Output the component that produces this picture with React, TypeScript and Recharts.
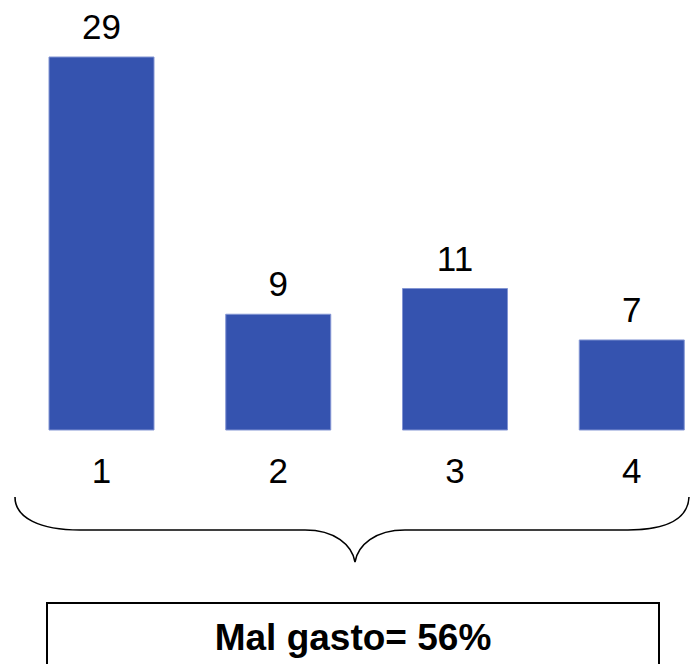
import React from "react";
import { BarChart, Bar, XAxis, YAxis, LabelList } from "recharts";

const CATEGORIES = ["1", "2", "3", "4"];
const VALUES = [29, 9, 11, 7];
const SUMMARY = "Mal gasto= 56%";

const FONT = "'Liberation Sans', Arial, sans-serif";
const BAR_COLOR = "#3553AF";

const data = CATEGORIES.map((name, i) => ({ name, value: VALUES[i] }));

export default function App() {
  return (
    <div
      style={{
        position: "absolute",
        left: 0,
        top: 0,
        width: 691,
        height: 664,
        overflow: "hidden",
        background: "#fff",
      }}
    >
      <BarChart
        width={730}
        height={664}
        data={data}
        margin={{ top: 57, right: 10, left: 13, bottom: 174 }}
        barCategoryGap={36}
      >
        <XAxis
          dataKey="name"
          axisLine={false}
          tickLine={false}
          tickSize={0}
          tickMargin={28}
          height={60}
          tick={{ fill: "#000", fontSize: 35, fontFamily: FONT }}
        />
        <YAxis hide domain={[0, 29]} />
        <Bar
          dataKey="value"
          fill={BAR_COLOR}
          stroke="#8395d3"
          strokeWidth={1}
          isAnimationActive={false}
        >
          <LabelList
            dataKey="value"
            position="top"
            offset={18}
            fill="#000"
            fontSize={35}
            fontFamily={FONT}
          />
        </Bar>
      </BarChart>
      <svg
        width={691}
        height={664}
        style={{ position: "absolute", left: 0, top: 0, pointerEvents: "none" }}
      >
        {/* brace under the categories */}
        <path
          d="M 15 497 C 15 518, 40 530, 80 530 L 305 530 C 335 530, 352 545, 355 562 C 358 545, 375 530, 405 530 L 628 530 C 668 530, 688 518, 689 497"
          fill="none"
          stroke="#000"
          strokeWidth={1.6}
        />
        <rect x={47} y={603} width={612} height={100} fill="none" stroke="#000" strokeWidth={2} />
        <text
          x={353}
          y={650}
          textAnchor="middle"
          fontFamily={FONT}
          fontWeight="bold"
          fontSize={37}
          fill="#000"
        >
          {SUMMARY}
        </text>
      </svg>
    </div>
  );
}
